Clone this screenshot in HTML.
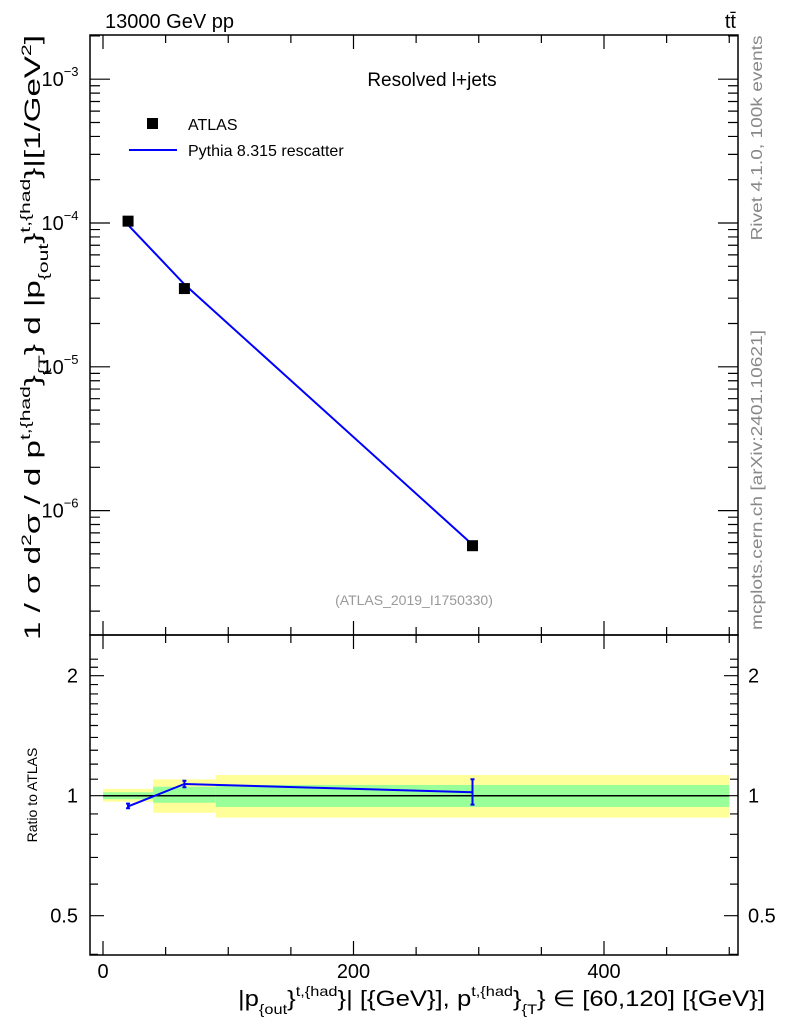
<!DOCTYPE html>
<html><head><meta charset="utf-8"><style>
body{margin:0;background:#fff;}
svg{font-family:"Liberation Sans",sans-serif;display:block}
</style></head><body>
<svg id="chart" width="786" height="1024" viewBox="0 0 786 1024" xmlns="http://www.w3.org/2000/svg">
<g id="bands"></g>
<g id="marks"></g>
<g id="axes"></g>
<text x="105" y="28" font-size="20">13000 GeV pp</text>
<text x="736" y="28" font-size="20" text-anchor="end">tt̄</text>
<text x="432" y="86" font-size="19" text-anchor="middle">Resolved l+jets</text>
<rect x="147" y="118" width="11" height="11" fill="#000"/>
<text x="188" y="130" font-size="16">ATLAS</text>
<line x1="129" y1="150" x2="177" y2="150" stroke="#0000ff" stroke-width="2"/>
<text x="188" y="156" font-size="16">Pythia 8.315 rescatter</text>
<text x="414" y="605" font-size="14" fill="#999" text-anchor="middle">(ATLAS_2019_I1750330)</text>
<text transform="translate(762,138) rotate(-90)" font-size="16" fill="#888" text-anchor="middle" textLength="205" lengthAdjust="spacingAndGlyphs">Rivet 4.1.0,  100k events</text>
<text transform="translate(762,480) rotate(-90)" font-size="16" fill="#888" text-anchor="middle" textLength="300" lengthAdjust="spacingAndGlyphs">mcplots.cern.ch [arXiv:2401.10621]</text>
<text transform="translate(40,640) rotate(-90)" font-size="22" textLength="605" lengthAdjust="spacingAndGlyphs">1 / σ d<tspan font-size="14" dy="-9">2</tspan><tspan dy="9">σ / d p</tspan><tspan font-size="14" dy="-10">t,{had</tspan><tspan dy="10">}</tspan><tspan font-size="14" dy="8">{T</tspan><tspan dy="-8">} d |p</tspan><tspan font-size="14" dy="8">{out</tspan><tspan dy="-8">}</tspan><tspan font-size="14" dy="-10">t,{had</tspan><tspan dy="10">}|[1/GeV</tspan><tspan font-size="14" dy="-9">2</tspan><tspan dy="9">]</tspan></text>
<text transform="translate(37,795) rotate(-90)" font-size="14" text-anchor="middle">Ratio to ATLAS</text>
<text x="238" y="1006" font-size="22" textLength="527" lengthAdjust="spacingAndGlyphs">|p<tspan font-size="14" dy="8">{out</tspan><tspan dy="-8">}</tspan><tspan font-size="14" dy="-10">t,{had</tspan><tspan dy="10">}| [{GeV}], p</tspan><tspan font-size="14" dy="-10">t,{had</tspan><tspan dy="10">}</tspan><tspan font-size="14" dy="8">{T</tspan><tspan dy="-8">} ∈ [60,120] [{GeV}]</tspan></text>
</svg>
<script>
const binEdges=[0,40,90,500];
const xPoints=[20,65,295];
const atlasVals=[1.03e-4,3.5e-5,5.7e-7];
const pythiaVals=[9.7e-5,3.75e-5,5.8e-7];
const ratioVals=[0.94,1.07,1.02];
const ratioErrLo=[0.93,1.05,0.95];
const ratioErrHi=[0.955,1.09,1.10];
const greenLo=[0.98,0.96,0.937];
const greenHi=[1.02,1.053,1.064];
const yellowLo=[0.966,0.906,0.881];
const yellowHi=[1.04,1.099,1.127];
const xTicks=[0,200,400];
const yDecades=[-3,-4,-5,-6];
const ratioTicks=[0.5,1,2];

const NS="http://www.w3.org/2000/svg";
const L=90,R=738,T=35,MB=635,RB=955;
const X=v=>103+v*1.2525;
const Y=v=>223-(Math.log10(v)+4)*143.8;
const YR=v=>795.7-Math.log2(v)*120;
function mk(parent,tag,attrs){const e=document.createElementNS(NS,tag);for(const k in attrs)e.setAttribute(k,attrs[k]);document.getElementById(parent).appendChild(e);return e;}

for(let i=0;i<3;i++){
  const y1=mk('bands','rect',{x:X(binEdges[i]),y:YR(yellowHi[i]),width:X(binEdges[i+1])-X(binEdges[i]),height:YR(yellowLo[i])-YR(yellowHi[i]),fill:'#ffff99'});
  
  
  const g1=mk('bands','rect',{x:X(binEdges[i]),y:YR(greenHi[i]),width:X(binEdges[i+1])-X(binEdges[i]),height:YR(greenLo[i])-YR(greenHi[i]),fill:'#99ff99'});
  
  
}
const one=mk('marks','line',{x1:X(binEdges[0]),x2:X(binEdges[3]),y1:YR(1),y2:YR(1),stroke:'#000','stroke-width':1.5});



const pl=mk('marks','polyline',{points:xPoints.map((x,i)=>X(x)+','+Y(pythiaVals[i])).join(' '),fill:'none',stroke:'#0000ff','stroke-width':2});


for(let i=0;i<3;i++){
  const r=mk('marks','rect',{x:X(xPoints[i])-5.5,y:Y(atlasVals[i])-5.5,width:11,height:11,fill:'#000'});
  
  
}
const rl=mk('marks','polyline',{points:xPoints.map((x,i)=>X(x)+','+YR(ratioVals[i])).join(' '),fill:'none',stroke:'#0000ff','stroke-width':2});


for(let i=0;i<3;i++){
  const x=X(xPoints[i]);
  const e=mk('marks','path',{d:`M${x},${YR(ratioErrLo[i])}V${YR(ratioErrHi[i])}M${x-2},${YR(ratioErrLo[i])}h4M${x-2},${YR(ratioErrHi[i])}h4`,stroke:'#0000ff','stroke-width':2,fill:'none'});
  
  
}

const f1=mk('axes','rect',{x:L,y:T,width:R-L,height:MB-T,fill:'none',stroke:'#000','stroke-width':1.5});


const f2=mk('axes','rect',{x:L,y:MB,width:R-L,height:RB-MB,fill:'none',stroke:'#000','stroke-width':1.5});


let d='';
for(let v=0;v<=500;v+=50){const x=X(v);const len=v%200===0?14:8;
  d+=`M${x},${T}v${len}M${x},${MB}v${-len}M${x},${MB}v${len}M${x},${RB}v${-len}`;}
for(let e=-7;e<=-3;e++){for(let m=1;m<10;m++){const v=m*Math.pow(10,e);const y=Y(v);if(y<T||y>MB)continue;const len=m===1?20:10;d+=`M${L},${y}h${len}M${R},${y}h${-len}`;}}
for(let v=0.4;v<=2.21;v+=0.1){const y=YR(v);if(y<MB||y>RB)continue;const big=Math.abs(v-0.5)<1e-6||Math.abs(v-1)<1e-6||Math.abs(v-2)<1e-6;const len=big?14:8;d+=`M${L},${y}h${len}M${R},${y}h${-len}`;}
const tk=mk('axes','path',{d:d,stroke:'#000','stroke-width':1.2,fill:'none'});


xTicks.forEach(v=>{const t=mk('axes','text',{x:X(v),y:978,'font-size':20,'text-anchor':'middle'});t.textContent=v;
  
  });
yDecades.forEach(e=>{const y=Y(Math.pow(10,e));const t=mk('axes','text',{x:60,y:y+7,'font-size':20,'text-anchor':'middle'});
  t.innerHTML=`10<tspan font-size="13" dy="-10">${'\u2212'+(-e)}</tspan>`;
  
  });
ratioTicks.forEach(v=>{const y=YR(v)+7;
  const t=mk('axes','text',{x:78,y:y,'font-size':20,'text-anchor':'end'});t.textContent=v;
  
  
  const t2=mk('axes','text',{x:748,y:y,'font-size':20});t2.textContent=v;
  
  });
</script>
</body></html>
